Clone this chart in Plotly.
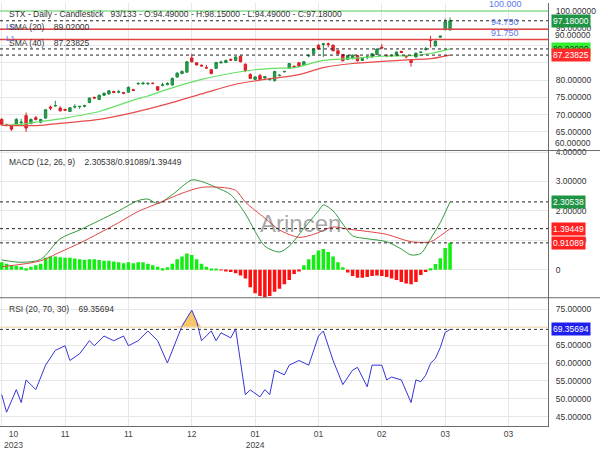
import plotly.graph_objects as go

F = "Liberation Sans, Arial, sans-serif"
FS = 8.5

# ---------------- data ----------------
bar_index = list(range(93))
opens = [68.6, 67.1, 66.7, 67.0, 67.6, 69.7, 67.4, 69.1, 67.8, 69.0,
         72.2, 72.5, 71.9, 71.5, 70.9, 72.2, 72.3, 72.4, 73.5, 75.0,
         74.4, 75.6, 76.0, 76.7, 76.5, 76.4, 76.5, 77.2, 78.9, 78.9,
         79.0, 79.1, 78.1, 78.5, 78.7, 78.6, 80.9, 81.9, 82.3, 86.4,
         85.0, 84.3, 83.6, 83.0, 83.4, 85.0, 85.1, 86.0, 85.7, 86.9,
         84.6, 81.6, 80.2, 81.3, 80.6, 80.2, 79.9, 81.3, 82.4, 83.4,
         84.0, 85.0, 84.4, 87.0, 87.6, 90.1, 90.3, 90.5, 90.1, 88.5,
         87.4, 86.0, 86.2, 87.1, 85.7, 86.6, 86.7, 87.4, 89.5, 87.2,
         87.0, 87.1, 88.3, 87.1, 85.7, 86.7, 88.0, 88.9, 91.7, 89.9,
         92.4, 94.6, 94.49]
highs = [69.0, 67.4, 67.0, 69.0, 68.8, 70.6, 68.9, 69.6, 68.8, 71.6,
         72.6, 74.0, 72.4, 71.7, 72.2, 73.0, 72.5, 72.9, 75.0, 75.2,
         75.8, 76.4, 77.1, 76.9, 77.2, 76.5, 78.2, 77.5, 79.4, 79.5,
         79.2, 79.3, 78.3, 79.2, 79.4, 80.7, 82.3, 82.8, 85.5, 87.6,
         85.2, 84.5, 84.4, 83.2, 85.3, 85.6, 85.9, 86.2, 86.9, 87.1,
         84.8, 82.0, 81.1, 81.8, 81.2, 80.5, 82.7, 81.7, 82.7, 85.0,
         84.2, 85.2, 85.5, 87.6, 89.2, 90.4, 90.8, 90.9, 90.3, 88.7,
         87.6, 87.3, 87.4, 87.3, 86.4, 87.0, 87.8, 89.2, 90.4, 87.4,
         87.4, 88.3, 88.5, 87.3, 85.9, 88.0, 88.3, 89.6, 92.8, 91.5,
         92.9, 97.8, 98.15]
lows = [66.8, 66.6, 65.3, 66.8, 67.3, 65.0, 67.2, 68.3, 67.5, 68.8,
        71.3, 72.4, 70.9, 71.1, 70.8, 71.8, 71.6, 72.1, 73.3, 74.6,
        74.2, 75.4, 75.8, 76.2, 76.2, 75.9, 76.3, 76.8, 78.7, 78.7,
        78.5, 78.8, 76.9, 78.2, 78.5, 78.4, 80.7, 81.7, 82.1, 85.1,
        84.2, 83.9, 83.4, 81.7, 83.2, 84.8, 84.9, 85.6, 85.5, 85.1,
        82.3, 80.3, 80.0, 80.0, 80.4, 79.8, 79.5, 81.1, 82.2, 83.2,
        83.4, 83.7, 84.2, 86.6, 87.4, 88.8, 86.7, 89.5, 88.3, 87.4,
        85.4, 85.8, 86.0, 85.4, 85.5, 86.0, 86.5, 87.2, 89.1, 86.6,
        86.7, 86.9, 87.8, 86.3, 83.9, 86.5, 87.8, 88.5, 89.4, 89.7,
        92.2, 94.4, 94.49]
closes = [67.2, 66.9, 65.8, 68.6, 67.8, 66.1, 68.6, 68.6, 68.6, 71.4,
          71.9, 72.6, 71.1, 71.3, 72.0, 72.3, 72.4, 72.6, 74.8, 74.8,
          75.6, 76.2, 76.9, 76.4, 76.6, 76.2, 77.9, 77.0, 79.0, 79.1,
          79.1, 79.0, 77.1, 78.6, 79.0, 80.5, 82.0, 82.5, 85.3, 85.3,
          84.4, 84.1, 83.5, 81.9, 85.1, 85.2, 85.7, 85.8, 86.7, 85.3,
          82.8, 80.5, 80.9, 80.2, 81.0, 80.3, 82.5, 81.4, 82.5, 84.8,
          83.8, 83.9, 85.3, 87.1, 89.0, 89.0, 90.5, 90.3, 88.5, 87.6,
          85.6, 87.1, 87.2, 85.6, 86.2, 86.7, 87.6, 89.0, 89.3, 87.1,
          87.1, 88.1, 88.0, 86.7, 85.1, 87.8, 88.1, 89.0, 91.5, 91.3,
          92.7, 96.9, 97.18]

sma20_index = [0, 4, 8, 13, 20, 27, 30, 34, 41, 48, 52, 56, 60, 66, 72, 78, 84, 88, 92]
sma20_values = [67.0, 67.2, 68.0, 69.0, 70.9, 74.2, 75.4, 77.3, 80.2, 82.2, 83.0, 83.4,
                83.6, 85.7, 86.3, 86.9, 87.1, 87.7, 89.02]
sma40_index = [0, 8, 13, 20, 27, 34, 41, 48, 55, 61, 66, 72, 78, 84, 88, 92]
sma40_values = [66.9, 66.9, 67.6, 68.6, 70.6, 73.1, 76.0, 78.8, 80.4, 81.6, 83.6, 84.8,
                85.4, 85.9, 86.2, 87.23825]

macd_index = [0, 4, 8, 12, 16, 20, 24, 28, 30, 32, 35, 39, 41, 44, 47, 50, 52, 54, 57, 59,
              62, 65, 66, 68, 70, 72, 75, 79, 82, 84, 86, 88, 90, 92]
macd_values = [0.33, 0.25, 0.35, 1.05, 1.35, 1.67, 2.0, 2.35, 2.4, 2.25, 2.55, 3.05, 3.0,
               2.8, 2.55, 1.9, 1.3, 0.8, 0.6, 0.8, 1.4, 2.0, 2.2, 2.0, 1.55, 1.15, 1.05,
               0.95, 0.7, 0.5, 0.55, 1.05, 1.6, 2.30538]
signal_index = [0, 8, 12, 16, 20, 24, 28, 32, 37, 41, 45, 48, 50, 54, 57, 61, 64, 68, 71,
                75, 79, 84, 88, 90, 92]
signal_values = [0.1, 0.3, 0.6, 0.9, 1.24, 1.6, 1.98, 2.25, 2.6, 2.8, 2.8, 2.7, 2.3, 1.75,
                 1.35, 1.1, 1.2, 1.45, 1.38, 1.3, 1.2, 0.95, 0.95, 1.15, 1.39449]
histogram = [0.25, 0.2, 0.15, 0.12, 0.1, 0.05, 0.1, 0.15, 0.2, 0.4,
             0.45, 0.45, 0.42, 0.4, 0.4, 0.38, 0.35, 0.33, 0.35, 0.35,
             0.33, 0.3, 0.3, 0.28, 0.25, 0.22, 0.25, 0.22, 0.25, 0.25,
             0.2, 0.15, 0.1, 0.05, 0.08, 0.2, 0.35, 0.45, 0.55, 0.5,
             0.35, 0.2, 0.1, 0.02, 0.02, -0.02, -0.05, -0.08, -0.12, -0.2,
             -0.3, -0.6, -0.8, -0.9, -0.95, -0.9, -0.75, -0.65, -0.5, -0.35,
             -0.15, -0.05, 0.15, 0.35, 0.5, 0.65, 0.7, 0.6, 0.45, 0.25,
             0.08, -0.1, -0.22, -0.28, -0.28, -0.25, -0.22, -0.2, -0.22, -0.25,
             -0.3, -0.35, -0.42, -0.47, -0.5, -0.42, -0.18, -0.08, 0.05, 0.19,
             0.39, 0.74, 0.91089]

rsi_index = [0, 1, 3, 4, 5, 7, 9, 11, 13, 14, 16, 18, 19, 21, 23, 25, 26, 28, 30, 32,
             34, 35, 37, 39, 40, 41, 43, 44, 45, 47, 48, 50, 51, 53, 54, 55, 56, 58, 59, 61,
             63, 65, 66, 68, 70, 72, 73, 75, 76, 78, 79, 80, 82, 84, 85, 86, 87, 88, 89, 90,
             91, 92]
rsi_values = [51.2, 46.3, 52.6, 49.0, 55.3, 52.6, 59.4, 63.5, 64.8, 60.7,
              62.6, 66.2, 64.8, 67.5, 66.2, 67.5, 64.8, 66.2, 68.9, 66.2,
              60.0, 63.5, 70.3, 74.7, 71.6, 66.2, 68.9, 66.2, 68.4, 67.0,
              69.5, 51.2, 52.5, 50.6, 52.6, 51.2, 58.0, 56.7, 59.4, 60.7,
              59.4, 67.5, 68.9, 60.7, 54.0, 58.0, 58.8, 53.4, 59.4, 59.4,
              55.3, 56.1, 55.3, 49.0, 55.3, 54.8, 56.6, 59.9, 61.3, 64.3,
              68.5, 69.35694]

x_tick_index = [0, 13, 26, 39, 52, 65, 78, 91, 104]
x_tick_labels = ["10<br>2023", "11", "11", "12", "01<br>2024", "01", "02", "03", "03"]

price_ticks = [65, 70, 75, 80, 85, 90, 95, 100]
price_tick_labels = ["65.00000", "70.00000", "75.00000", "80.00000", "", "", "95.00000", "100.00000"]
macd_ticks = [0, 1, 2, 3, 4]
macd_tick_labels = ["0", "1.00000", "2.00000", "3.00000", "4.00000"]
rsi_ticks = [45, 50, 55, 60, 65, 70, 75]
rsi_tick_labels = ["45.00000", "50.00000", "55.00000", "60.00000", "65.00000", "", "75.00000"]

level_green = 100.0
levels_red = [94.75, 91.75]
last_close, sma20_last, sma40_last = 97.18, 89.02, 87.23825
macd_last, signal_last, hist_last = 2.30538, 1.39449, 0.91089
rsi_last = 69.35694
rsi_upper = 70

# ---------------- figure ----------------
GRID = "#e7e7e7"
AXIS = "#6a6a6a"
fig = go.Figure()

fig.add_trace(go.Candlestick(
    x=bar_index, open=opens, high=highs, low=lows, close=closes,
    increasing=dict(line=dict(color="#1c8a3e", width=1), fillcolor="#27a34f"),
    decreasing=dict(line=dict(color="#d91c24", width=1), fillcolor="#e8262b"),
    whiskerwidth=0, xaxis="x", yaxis="y", hoverinfo="skip", showlegend=False))
fig.add_trace(go.Scatter(x=sma20_index, y=sma20_values, mode="lines",
                         line=dict(color="#66e066", width=1.2, shape="spline", smoothing=0.8),
                         xaxis="x", yaxis="y", hoverinfo="skip"))
fig.add_trace(go.Scatter(x=sma40_index, y=sma40_values, mode="lines",
                         line=dict(color="#e84a4a", width=1.2, shape="spline", smoothing=0.8),
                         xaxis="x", yaxis="y", hoverinfo="skip"))

hist_colors = ["#11ee11" if v >= 0 else "#ff1010" for v in histogram]
fig.add_trace(go.Bar(x=bar_index, y=histogram, marker=dict(color=hist_colors, line=dict(width=0)),
                     width=0.72, xaxis="x2", yaxis="y2", hoverinfo="skip"))
fig.add_trace(go.Scatter(x=macd_index, y=macd_values, mode="lines",
                         line=dict(color="#2f9a3a", width=1, shape="spline", smoothing=0.8),
                         xaxis="x2", yaxis="y2", hoverinfo="skip"))
fig.add_trace(go.Scatter(x=signal_index, y=signal_values, mode="lines",
                         line=dict(color="#e04545", width=1, shape="spline", smoothing=0.8),
                         xaxis="x2", yaxis="y2", hoverinfo="skip"))

# RSI overbought fill
fig.add_trace(go.Scatter(x=rsi_index, y=[rsi_upper] * len(rsi_index), mode="lines",
                         line=dict(width=0, color="rgba(0,0,0,0)"), xaxis="x3", yaxis="y3",
                         hoverinfo="skip"))
fig.add_trace(go.Scatter(x=rsi_index, y=[max(v, rsi_upper) for v in rsi_values], mode="lines",
                         line=dict(width=0, color="rgba(0,0,0,0)"), fill="tonexty",
                         fillcolor="#f7c76a", xaxis="x3", yaxis="y3", hoverinfo="skip"))
fig.add_trace(go.Scatter(x=rsi_index, y=rsi_values, mode="lines",
                         line=dict(color="#3535d5", width=1), xaxis="x3", yaxis="y3",
                         hoverinfo="skip"))

xcommon = dict(range=[-0.35, 112.1], tickvals=x_tick_index, showgrid=True, gridcolor=GRID,
               zeroline=False, ticks="", fixedrange=True)
ycommon = dict(side="right", showgrid=True, gridcolor=GRID, zeroline=False, ticks="",
               showline=True, linecolor=AXIS, linewidth=1, ticklabelstandoff=5,
               tickfont=dict(family=F, size=FS, color="#333"), fixedrange=True)

fig.update_layout(
    width=600, height=450, margin=dict(l=0, r=52, t=0, b=18),
    paper_bgcolor="white", plot_bgcolor="white", showlegend=False,
    xaxis=dict(**xcommon, anchor="y", showticklabels=False, rangeslider=dict(visible=False)),
    xaxis2=dict(**xcommon, anchor="y2", matches="x", showticklabels=False),
    xaxis3=dict(**xcommon, anchor="y3", matches="x", showticklabels=True,
                ticktext=[""] + x_tick_labels[1:], showline=True, linecolor=AXIS,
                tickfont=dict(family=F, size=FS, color="#444")),
    yaxis=dict(**ycommon, domain=[0.6512, 1], range=[59.60, 102.32],
               tickvals=price_ticks, ticktext=price_tick_labels),
    yaxis2=dict(**ycommon, domain=[0.3032, 0.6512], range=[-0.957, 4.053],
                tickvals=macd_ticks, ticktext=macd_tick_labels),
    yaxis3=dict(**ycommon, domain=[0, 0.3032], range=[42.47, 78.16],
                tickvals=rsi_ticks, ticktext=rsi_tick_labels),
)

def hline(yref, y, color, width=1, dash=None):
    fig.add_shape(type="line", xref="paper", x0=0, x1=1, yref=yref, y0=y, y1=y,
                  line=dict(color=color, width=width, dash=dash), layer="above")

hline("y", level_green, "#8fe08f", 1.5)
for lv in levels_red:
    hline("y", lv, "#e04444", 1.5)
for lv in [last_close, sma20_last, sma40_last]:
    hline("y", lv, "#222", 1, "3px,3px")
for lv in [macd_last, signal_last, hist_last]:
    hline("y2", lv, "#222", 1, "3px,3px")
hline("y3", rsi_upper, "#f5dca8", 1)
hline("y3", rsi_last, "#333", 1, "3px,3px")

# panel separators
for yp in [0.6512, 0.3032]:
    fig.add_shape(type="line", xref="paper", x0=0, x1=600 / 548, yref="paper", y0=yp, y1=yp,
                  line=dict(color=AXIS, width=1))

def tag(text, yref, y, bg, fg):
    fig.add_annotation(xref="paper", x=1, xanchor="left", xshift=3, yref=yref, y=y,
                       yanchor="middle", text=text, showarrow=False, bgcolor=bg,
                       font=dict(family=F, size=FS, color=fg), borderpad=1)

def axis_text(text, yref, y, shift):
    fig.add_annotation(xref="paper", x=1, xanchor="left", xshift=5, yref=yref, y=y,
                       yshift=shift, text=text, showarrow=False,
                       font=dict(family=F, size=FS, color="#333"))

axis_text("60.00000", "y", 60, 6)
axis_text("90.00000", "y", 90, 11)
axis_text("-1.00000", "y2", -1, 8)

tag(f"{last_close:.5f}", "y", last_close, "#1e9444", "white")
tag(f"{sma20_last:.5f}", "y", sma20_last, "#33ee33", "#1a3a1a")
tag(f"{sma40_last:.5f}", "y", sma40_last, "#ff2a2a", "white")
tag(f"{macd_last:.5f}", "y2", macd_last, "#1e9444", "white")
tag(f"{signal_last:.5f}", "y2", signal_last, "#ff2020", "white")
tag(f"{hist_last:.5f}", "y2", hist_last, "#ff2020", "white")
tag(f"{rsi_last:.5f}", "y3", rsi_last, "#2020ee", "white")

for lv, txt in [(level_green, "100.000"), (levels_red[0], "94.750"), (levels_red[1], "91.750")]:
    fig.add_annotation(xref="paper", x=505 / 548, xanchor="center", yref="y", y=lv,
                       yanchor="bottom", text=txt, showarrow=False,
                       font=dict(family=F, size=FS + 0.5, color="#5a7be8"))

NB = "\u00a0"
def label(text, ypx, size=FS, color="#333"):
    fig.add_annotation(xref="paper", x=7 / 548, xanchor="left", yref="paper",
                       y=(432 - ypx) / 432, yanchor="middle", text=text, showarrow=False,
                       font=dict(family=F, size=size, color=color))

label(f"STX - Daily - Candlestick{NB*3}93/133 - O:94.49000 - H:98.15000 - L:94.49000 - C:97.18000", 11)
label(f"SMA (20){NB*4}89.02000", 25)
label(f"SMA (40){NB*4}87.23825", 41)
label(f"MACD (12, 26, 9){NB*4}2.30538/0.91089/1.39449", 162)
label(f"RSI (20, 70, 30){NB*4}69.35694", 312)
fig.add_annotation(xref="paper", x=4 / 548, xanchor="left", yref="paper", y=(432 - 17) / 432,
                   text="L0", showarrow=False, font=dict(family=F, size=8, color="#4a6ee0"))
fig.add_annotation(xref="paper", x=4 / 548, xanchor="left", yref="paper", y=(432 - 30) / 432,
                   text="L1", showarrow=False, font=dict(family=F, size=8, color="#4a6ee0"))

# first x label (left aligned at the edge)
fig.add_annotation(xref="x3", x=0, xanchor="left", xshift=0, yref="paper", y=0, yanchor="top",
                   yshift=-1, text=x_tick_labels[0], showarrow=False, align="center",
                   font=dict(family=F, size=FS, color="#444"))

# watermark
fig.add_annotation(xref="paper", x=300 / 548, yref="paper", y=(432 - 225) / 432,
                   text="Arincen", showarrow=False,
                   font=dict(family=F, size=24, color="rgba(90,90,90,0.55)"))

fig.write_html("out.html", config={"displayModeBar": False},
               post_script="document.body.style.margin='0px';")
